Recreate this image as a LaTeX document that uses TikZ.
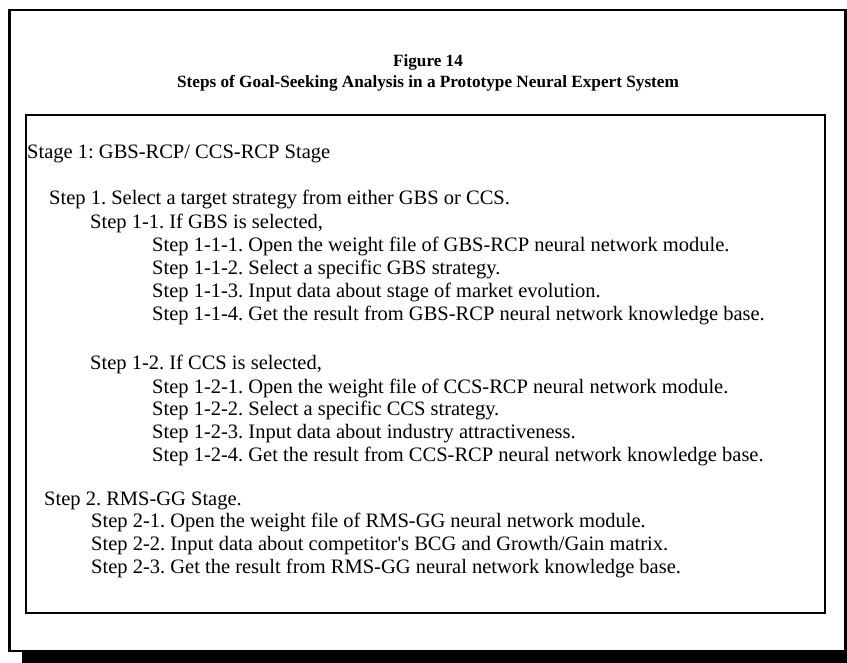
\documentclass[tikz,border=0pt]{standalone}
\usepackage{fontspec}
\setmainfont{Liberation Serif}
\frenchspacing
\begin{document}
\begin{tikzpicture}[x=1pt,y=-1pt,
  line/.style={anchor=base west,inner sep=0pt,font=\fontsize{20.5}{24}\selectfont},
  ttl/.style={anchor=base,inner sep=0pt,font=\fontsize{17.2}{20}\selectfont\bfseries}]
  \useasboundingbox (0,0) rectangle (847,663);
  % outer frame and its shadow band
  \draw[line width=2.6pt] (9.5,10) rectangle (845.5,651);
  \fill (22,650) rectangle (847,663);
  % inner box
  \draw[line width=2pt] (26,115.5) rectangle (824.5,613);
  % title
  \node[ttl] (fig) at (428,67) {Figure 14};
  \node[ttl] (sub) at (428,88) {Steps of Goal-Seeking Analysis in a Prototype Neural Expert System};
  % body
  \node[line] (s1)   at (27,159)  {Stage 1: GBS-RCP/ CCS-RCP Stage};
  \node[line] (st1)  at (49,205)  {Step 1. Select a target strategy from either GBS or CCS.};
  \node[line] (st11) at (90,229)  {Step 1-1. If GBS is selected,};
  \node[line] (a1)   at (152,252) {Step 1-1-1. Open the weight file of GBS-RCP neural network module.};
  \node[line] (a2)   at (152,275) {Step 1-1-2. Select a specific GBS strategy.};
  \node[line] (a3)   at (152,298) {Step 1-1-3. Input data about stage of market evolution.};
  \node[line] (a4)   at (152,321) {Step 1-1-4. Get the result from GBS-RCP neural network knowledge base.};
  \node[line] (st12) at (90,370)  {Step 1-2. If CCS is selected,};
  \node[line] (b1)   at (152,393) {Step 1-2-1. Open the weight file of CCS-RCP neural network module.};
  \node[line] (b2)   at (152,415) {Step 1-2-2. Select a specific CCS strategy.};
  \node[line] (b3)   at (152,438) {Step 1-2-3. Input data about industry attractiveness.};
  \node[line] (b4)   at (152,461) {Step 1-2-4. Get the result from CCS-RCP neural network knowledge base.};
  \node[line] (st2)  at (44,505)  {Step 2. RMS-GG Stage.};
  \node[line] (c1)   at (91,527)  {Step 2-1. Open the weight file of RMS-GG neural network module.};
  \node[line] (c2)   at (91,550)  {Step 2-2. Input data about competitor\textquotesingle s BCG and Growth/Gain matrix.};
  \node[line] (c3)   at (91,573)  {Step 2-3. Get the result from RMS-GG neural network knowledge base.};
\end{tikzpicture}
\end{document}
